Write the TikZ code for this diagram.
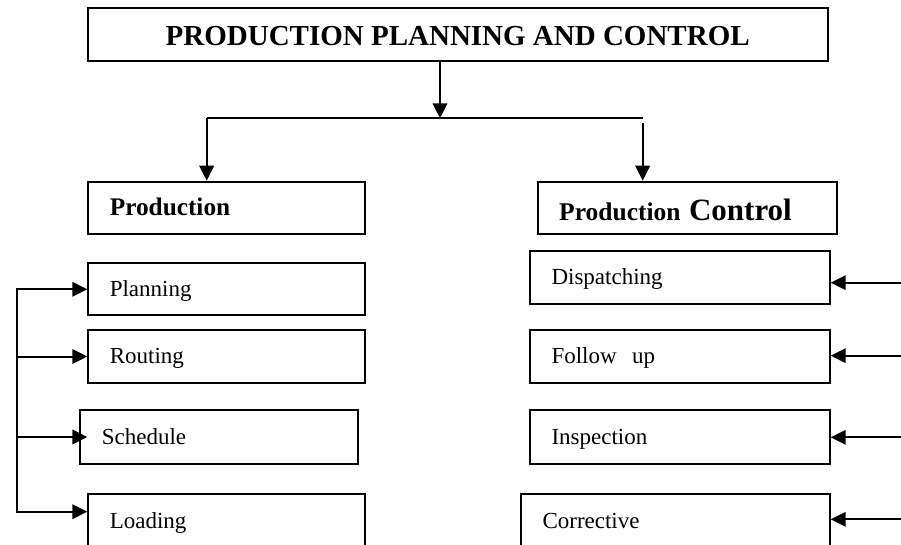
\documentclass[tikz,border=0pt]{standalone}
\usepackage{fontspec}
\setmainfont{Liberation Serif}
\usetikzlibrary{arrows.meta,calc}

\begin{document}
\begin{tikzpicture}[x=1pt,y=-1pt,
  frame/.style={draw, line width=2pt, rectangle, anchor=north west, inner sep=0pt},
  item/.style={frame, inner xsep=21.5pt, align=left,
    font=\fontsize{23}{25}\selectfont, text height=17pt, text depth=3pt},
  wire/.style={line width=2pt},
  arr/.style={line width=2pt, -{Triangle[length=15pt,width=14.5pt]}}]
\clip (0,0) rectangle (901,545);

% title box
\node[frame, minimum width=740pt, minimum height=52.7pt,
  font=\bfseries\fontsize{29}{31}\selectfont, text height=22.6pt, text depth=0pt]
  (ppc) at (86.7,7.3) {PRODUCTION PLANNING AND CONTROL};

% the two branches
\node[item, text width=233.7pt, minimum height=52.6pt,
  font=\bfseries\fontsize{25.3}{27}\selectfont, text height=16pt, text depth=0pt]
  (prod) at (87.3,180.7) {Production};
\node[item, text width=256.3pt, minimum height=52.6pt,
  font=\bfseries\fontsize{25.5}{27}\selectfont, text height=26pt, text depth=0pt]
  (ctrl) at (536.7,180.7) {Production {\fontsize{31}{33}\selectfont Control}};

% planning steps
\node[item, text width=233.7pt, minimum height=52.6pt] (plan)  at (87.3,261.7) {Planning};
\node[item, text width=233.7pt, minimum height=52.4pt] (rout)  at (87.3,329.3) {Routing};
\node[item, text width=234.4pt, minimum height=53.4pt] (sched) at (79.3,409.3) {Schedule};
\node[item, text width=233.7pt, minimum height=54pt]   (load)  at (87.3,493.3) {Loading};

% control steps
\node[item, text width=256.7pt, minimum height=52.7pt] (disp) at (529,250)   {Dispatching};
\node[item, text width=256.7pt, minimum height=52.4pt] (foll) at (529,329.3) {Follow\ \ up};
\node[item, text width=256.7pt, minimum height=53.4pt] (insp) at (529,409.3) {Inspection};
\node[item, text width=265.7pt, minimum height=54pt]   (corr) at (520,493.3) {Corrective};

% split from the title
\coordinate (split) at (440,118.3);
\coordinate (lj) at (206.7,118.3);
\coordinate (rj) at (642.7,118.3);
\draw[arr] (ppc.south -| split) -- (split);
\draw[wire] (lj) -- (rj);
\draw[arr] (lj) -- (lj |- prod.north);
\draw[arr] ([yshift=-4.4pt]rj) -- (rj |- ctrl.north);

% left feed bus
\coordinate (b1) at (17.3,289.3);
\coordinate (b4) at (17.3,511.7);
\draw[wire, line cap=rect] (b1) -- (b4);
\draw[arr] (b1) -- (b1 -| plan.west);
\draw[arr] (b1 |- rout.west) -- (rout.west);
\draw[arr] (b1 |- sched.west) -- ([xshift=8pt]sched.west);
\draw[arr] (b4) -- (b4 -| load.west);

% right feeds
\coordinate (r1) at (905,282.7);
\coordinate (r2) at (905,355.7);
\coordinate (r3) at (905,437.3);
\coordinate (r4) at (905,519.3);
\draw[arr] (r1) -- (r1 -| disp.east);
\draw[arr] (r2) -- (r2 -| foll.east);
\draw[arr] (r3) -- (r3 -| insp.east);
\draw[arr] (r4) -- (r4 -| corr.east);
\end{tikzpicture}
\end{document}
